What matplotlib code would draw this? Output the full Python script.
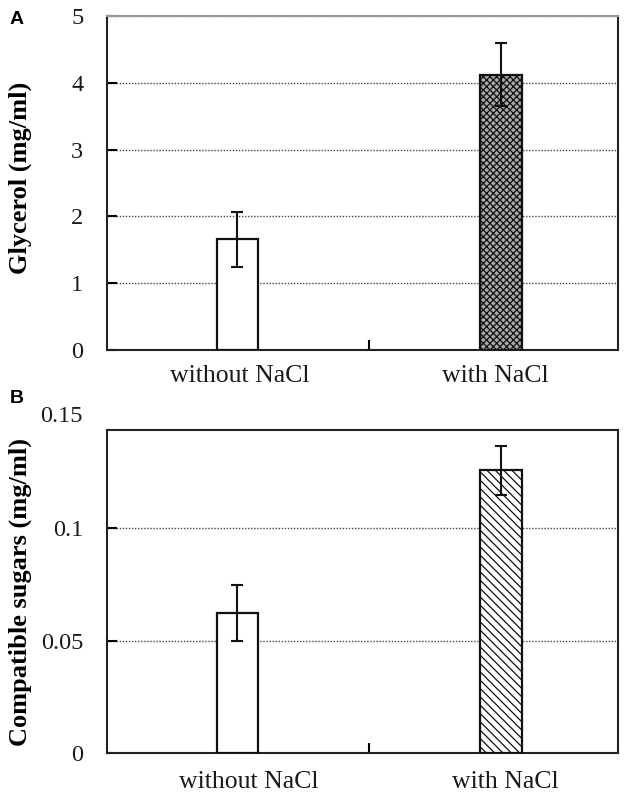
import matplotlib
matplotlib.use("Agg")
import matplotlib.pyplot as plt
import matplotlib.transforms as mtransforms

# Data
categories = ["without NaCl", "with NaCl"]
glycerol = [1.66, 4.12]
glycerol_err = [0.41, 0.47]
sugars = [0.0622, 0.1258]
sugars_err = [0.0125, 0.011]
glycerol_ticks = [0, 1, 2, 3, 4, 5]
sugar_ticks = [0, 0.05, 0.1]
sugar_tick_labels = ["0", "0.05", "0.1"]

W, H = 624, 794
fig = plt.figure(figsize=(W / 100, H / 100), dpi=100)
serif = ["Liberation Serif", "DejaVu Serif"]
sans = ["Liberation Sans", "DejaVu Sans"]
plt.rcParams["hatch.linewidth"] = 0.9


def ax_rect(left, right, top, bottom):
    return [left / W, (H - bottom) / H, (right - left) / W, (bottom - top) / H]


axA = fig.add_axes(ax_rect(107, 618, 16, 350))
axB = fig.add_axes(ax_rect(107, 618, 430, 753))

x = [0, 1]
bw = 0.157
xtick_fs = 18.5
ytick_fs = 17.5
label_fs = 19

def style(ax, xpad, xshifts):
    ax.set_xlim(-0.495, 1.444)
    ax.set_xticks(x)
    ax.set_xticklabels(categories, fontsize=xtick_fs, family=serif, color="#1a1a1a")
    ax.tick_params(axis="x", which="major", length=0, pad=xpad)
    ax.set_xticks([0.5], minor=True)
    ax.tick_params(axis="x", which="minor", direction="in", length=7, width=1.5)
    ax.tick_params(axis="y", direction="in", length=7, width=1.5, pad=17,
                   labelsize=ytick_fs)
    for lab in ax.get_yticklabels():
        lab.set_family(serif)
        lab.set_color("#1a1a1a")
    for lab, dx in zip(ax.get_xticklabels(), xshifts):
        lab.set_transform(lab.get_transform() +
                          mtransforms.ScaledTranslation(dx / 100, 0, fig.dpi_scale_trans))
    ax.yaxis.grid(True, linestyle=(0, (1, 1.2)), color="#444444", linewidth=1.0)
    ax.set_axisbelow(True)
    for s in ax.spines.values():
        s.set_linewidth(1.5)
        s.set_color("#222222")

# Panel A
axA.bar(x[0], glycerol[0], width=bw, facecolor="white", edgecolor="#111111",
        linewidth=1.6, zorder=3)
axA.bar(x[1], glycerol[1], width=bw, facecolor="#a8a8a8", edgecolor="#111111",
        linewidth=1.6, hatch="xxxxx", zorder=3)
axA.errorbar(x, glycerol, yerr=glycerol_err, fmt="none", ecolor="#111111",
             elinewidth=1.5, capsize=4, capthick=1.5, zorder=4)
axA.set_ylim(0, 5)
axA.set_yticks(glycerol_ticks)
axA.set_yticklabels([str(t) for t in glycerol_ticks])
style(axA, 11, [2.5, -6])
axA.spines["top"].set_color("#999999")
axA.set_ylabel("Glycerol (mg/ml)", fontsize=label_fs, fontweight="bold", family=serif)
axA.yaxis.set_label_coords(-0.147, 0.515)

# Panel B
axB.bar(x[0], sugars[0], width=bw, facecolor="white", edgecolor="#111111",
        linewidth=1.6, zorder=3)
axB.bar(x[1], sugars[1], width=bw, facecolor="white", edgecolor="#111111",
        linewidth=1.6, hatch="\\\\\\\\", zorder=3)
axB.errorbar(x, sugars, yerr=sugars_err, fmt="none", ecolor="#111111",
             elinewidth=1.5, capsize=4, capthick=1.5, zorder=4)
axB.set_ylim(0, 0.1438)
axB.set_yticks(sugar_ticks)
axB.set_yticklabels(sugar_tick_labels)
style(axB, 13, [11, 4])
trans = mtransforms.blended_transform_factory(axB.transAxes, axB.transData)
axB.text(-0.047, 0.15, "0.15", transform=trans, ha="right", va="center",
         fontsize=ytick_fs, family=serif, color="#1a1a1a", clip_on=False)
axB.set_ylabel("Compatible sugars (mg/ml)", fontsize=label_fs, fontweight="bold",
               family=serif)
axB.yaxis.set_label_coords(-0.147, 0.5)

fig.text(10 / W, 1 - 19 / H, "A", fontsize=14, fontweight="bold", family=sans,
         va="center", ha="left")
fig.text(10 / W, 1 - 398 / H, "B", fontsize=14, fontweight="bold", family=sans,
         va="center", ha="left")

fig.savefig("out.png", dpi=100)
